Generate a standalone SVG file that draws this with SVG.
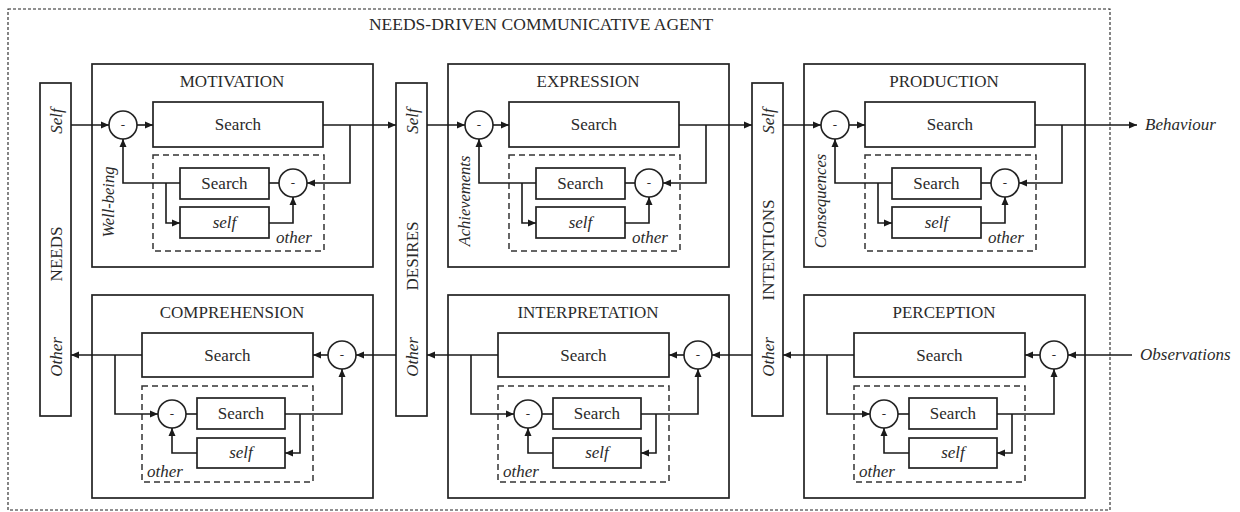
<svg xmlns="http://www.w3.org/2000/svg" width="1240" height="512" viewBox="0 0 1240 512">
<defs>
<marker id="ah" markerUnits="userSpaceOnUse" markerWidth="9" markerHeight="8" refX="8" refY="4" orient="auto">
<path d="M0,0.5 L8,4 L0,7.5 z" fill="#1a1a1a"/>
</marker>
<style>
text{font-family:"Liberation Serif","Times New Roman",serif;fill:#2a2a2a}
.box{fill:#fff;stroke:#222;stroke-width:1.7}
.dash{fill:none;stroke:#333;stroke-width:1.5;stroke-dasharray:6 4}
.outer{fill:none;stroke:#222;stroke-width:1.1;stroke-dasharray:3 2}
.c{fill:#fff;stroke:#222;stroke-width:1.6}
.ln{fill:none;stroke:#1a1a1a;stroke-width:1.6}
.ar{marker-end:url(#ah)}
.t{font-size:17px;text-anchor:middle}
.s{font-size:17px;text-anchor:middle}
.i{font-style:italic;font-size:17px}
.m{font-size:13px;text-anchor:middle}
.v{text-anchor:middle;dominant-baseline:central}
.lab{font-size:16.5px}
</style>
</defs>
<rect width="1240" height="512" fill="#fff"/>

<g id="agent">
<rect class="outer" x="8" y="9" width="1102" height="501"/>
<text class="t" x="541" y="30" style="font-size:17.5px">NEEDS-DRIVEN COMMUNICATIVE AGENT</text>
</g>

<!-- bars -->
<g id="needs">
<rect class="box" x="40" y="83" width="31" height="333"/>
<text class="i v" transform="rotate(-90 56 121)" x="56" y="121">Self</text>
<text class="t v" transform="rotate(-90 56 254)" x="56" y="254">NEEDS</text>
<text class="i v" transform="rotate(-90 56 357)" x="56" y="357">Other</text>
</g>
<g id="desires">
<rect class="box" x="396" y="83" width="31" height="333"/>
<text class="i v" transform="rotate(-90 412 121)" x="412" y="121">Self</text>
<text class="t v" transform="rotate(-90 412 256)" x="412" y="256">DESIRES</text>
<text class="i v" transform="rotate(-90 412 357)" x="412" y="357">Other</text>
</g>
<g id="intentions">
<rect class="box" x="752" y="83" width="31" height="333"/>
<text class="i v" transform="rotate(-90 768 121)" x="768" y="121">Self</text>
<text class="t v" transform="rotate(-90 768 250)" x="768" y="250">INTENTIONS</text>
<text class="i v" transform="rotate(-90 768 357)" x="768" y="357">Other</text>
</g>

<!-- top modules -->
<g id="motivation">
<rect class="box" x="92" y="64" width="281" height="203"/>
<text class="t" x="232" y="87">MOTIVATION</text>
<rect class="box" x="153" y="102" width="170" height="45"/>
<text class="s" x="238" y="130">Search</text>
<rect class="dash" x="153" y="155" width="171" height="96"/>
<rect class="box" x="180" y="168" width="89" height="31"/>
<text class="s" x="224.5" y="189">Search</text>
<rect class="box" x="180" y="207" width="89" height="31"/>
<text class="i" x="224.5" y="228" text-anchor="middle">self</text>
<text class="i" x="294" y="243" text-anchor="middle">other</text>
<circle class="c" cx="123" cy="125" r="14"/><text class="m" x="123" y="129">-</text>
<circle class="c" cx="293" cy="183" r="14"/><text class="m" x="293" y="187">-</text>
<text class="i v lab" transform="rotate(-90 108 202)" x="108" y="202">Well-being</text>
</g>
<g id="expression">
<rect class="box" x="448" y="64" width="281" height="203"/>
<text class="t" x="588" y="87">EXPRESSION</text>
<rect class="box" x="509" y="102" width="170" height="45"/>
<text class="s" x="594" y="130">Search</text>
<rect class="dash" x="509" y="155" width="171" height="96"/>
<rect class="box" x="536" y="168" width="89" height="31"/>
<text class="s" x="580.5" y="189">Search</text>
<rect class="box" x="536" y="207" width="89" height="31"/>
<text class="i" x="580.5" y="228" text-anchor="middle">self</text>
<text class="i" x="650" y="243" text-anchor="middle">other</text>
<circle class="c" cx="479" cy="125" r="14"/><text class="m" x="479" y="129">-</text>
<circle class="c" cx="649" cy="183" r="14"/><text class="m" x="649" y="187">-</text>
<text class="i v lab" transform="rotate(-90 464 201)" x="464" y="201">Achievements</text>
</g>
<g id="production">
<rect class="box" x="804" y="64" width="281" height="203"/>
<text class="t" x="944" y="87">PRODUCTION</text>
<rect class="box" x="865" y="102" width="170" height="45"/>
<text class="s" x="950" y="130">Search</text>
<rect class="dash" x="865" y="155" width="171" height="96"/>
<rect class="box" x="892" y="168" width="89" height="31"/>
<text class="s" x="936.5" y="189">Search</text>
<rect class="box" x="892" y="207" width="89" height="31"/>
<text class="i" x="936.5" y="228" text-anchor="middle">self</text>
<text class="i" x="1006" y="243" text-anchor="middle">other</text>
<circle class="c" cx="835" cy="125" r="14"/><text class="m" x="835" y="129">-</text>
<circle class="c" cx="1005" cy="183" r="14"/><text class="m" x="1005" y="187">-</text>
<text class="i v lab" transform="rotate(-90 820 201)" x="820" y="201">Consequences</text>
</g>

<!-- bottom modules -->
<g id="comprehension">
<rect class="box" x="92" y="295" width="281" height="203"/>
<text class="t" x="232" y="318">COMPREHENSION</text>
<rect class="box" x="142" y="333" width="171" height="44"/>
<text class="s" x="227.5" y="361">Search</text>
<rect class="dash" x="142" y="386" width="171" height="96"/>
<rect class="box" x="197" y="398" width="88" height="31"/>
<text class="s" x="241" y="419">Search</text>
<rect class="box" x="197" y="438" width="88" height="30"/>
<text class="i" x="241" y="458" text-anchor="middle">self</text>
<text class="i" x="147" y="477">other</text>
<circle class="c" cx="342" cy="355" r="14"/><text class="m" x="342" y="359">-</text>
<circle class="c" cx="172" cy="414" r="14"/><text class="m" x="172" y="418">-</text>
</g>
<g id="interpretation">
<rect class="box" x="448" y="295" width="281" height="203"/>
<text class="t" x="588" y="318">INTERPRETATION</text>
<rect class="box" x="498" y="333" width="171" height="44"/>
<text class="s" x="583.5" y="361">Search</text>
<rect class="dash" x="498" y="386" width="171" height="96"/>
<rect class="box" x="553" y="398" width="88" height="31"/>
<text class="s" x="597" y="419">Search</text>
<rect class="box" x="553" y="438" width="88" height="30"/>
<text class="i" x="597" y="458" text-anchor="middle">self</text>
<text class="i" x="503" y="477">other</text>
<circle class="c" cx="698" cy="355" r="14"/><text class="m" x="698" y="359">-</text>
<circle class="c" cx="528" cy="414" r="14"/><text class="m" x="528" y="418">-</text>
</g>
<g id="perception">
<rect class="box" x="804" y="295" width="281" height="203"/>
<text class="t" x="944" y="318">PERCEPTION</text>
<rect class="box" x="854" y="333" width="171" height="44"/>
<text class="s" x="939.5" y="361">Search</text>
<rect class="dash" x="854" y="386" width="171" height="96"/>
<rect class="box" x="909" y="398" width="88" height="31"/>
<text class="s" x="953" y="419">Search</text>
<rect class="box" x="909" y="438" width="88" height="30"/>
<text class="i" x="953" y="458" text-anchor="middle">self</text>
<text class="i" x="859" y="477">other</text>
<circle class="c" cx="1054" cy="355" r="14"/><text class="m" x="1054" y="359">-</text>
<circle class="c" cx="884" cy="414" r="14"/><text class="m" x="884" y="418">-</text>
</g>

<g id="io">
<text class="i" x="1145" y="130">Behaviour</text>
<text class="i" x="1140" y="360">Observations</text>
</g>

<g id="connectors">
<g>
<path class="ln ar" d="M71,125 H109"/>
<path class="ln ar" d="M137,125 H153"/>
<path class="ln ar" d="M323,125 H396"/>
<path class="ln ar" d="M350,125 V183 H307"/>
<path class="ln" d="M279,183 H269"/>
<path class="ln ar" d="M180,183 H123 V139"/>
<path class="ln ar" d="M166,183 V223 H180"/>
<path class="ln ar" d="M269,223 H293 V197"/>
</g>
<g>
<path class="ln ar" d="M427,125 H465"/>
<path class="ln ar" d="M493,125 H509"/>
<path class="ln ar" d="M679,125 H752"/>
<path class="ln ar" d="M706,125 V183 H663"/>
<path class="ln" d="M635,183 H625"/>
<path class="ln ar" d="M536,183 H479 V139"/>
<path class="ln ar" d="M522,183 V223 H536"/>
<path class="ln ar" d="M625,223 H649 V197"/>
</g>
<g>
<path class="ln ar" d="M783,125 H821"/>
<path class="ln ar" d="M849,125 H865"/>
<path class="ln ar" d="M1035,125 H1137"/>
<path class="ln ar" d="M1062,125 V183 H1019"/>
<path class="ln" d="M991,183 H981"/>
<path class="ln ar" d="M892,183 H835 V139"/>
<path class="ln ar" d="M878,183 V223 H892"/>
<path class="ln ar" d="M981,223 H1005 V197"/>
</g>
<g>
<path class="ln ar" d="M396,355 H356"/>
<path class="ln ar" d="M328,355 H313"/>
<path class="ln ar" d="M142,355 H71"/>
<path class="ln ar" d="M115,355 V414 H158"/>
<path class="ln" d="M186,414 H197"/>
<path class="ln ar" d="M285,414 H342 V369"/>
<path class="ln ar" d="M300,414 V453 H285"/>
<path class="ln ar" d="M197,453 H172 V428"/>
</g>
<g>
<path class="ln ar" d="M752,355 H712"/>
<path class="ln ar" d="M684,355 H669"/>
<path class="ln ar" d="M498,355 H427"/>
<path class="ln ar" d="M471,355 V414 H514"/>
<path class="ln" d="M542,414 H553"/>
<path class="ln ar" d="M641,414 H698 V369"/>
<path class="ln ar" d="M656,414 V453 H641"/>
<path class="ln ar" d="M553,453 H528 V428"/>
</g>
<g>
<path class="ln ar" d="M1132,355 H1068"/>
<path class="ln ar" d="M1040,355 H1025"/>
<path class="ln ar" d="M854,355 H783"/>
<path class="ln ar" d="M827,355 V414 H870"/>
<path class="ln" d="M898,414 H909"/>
<path class="ln ar" d="M997,414 H1054 V369"/>
<path class="ln ar" d="M1012,414 V453 H997"/>
<path class="ln ar" d="M909,453 H884 V428"/>
</g>
</g>
</svg>
